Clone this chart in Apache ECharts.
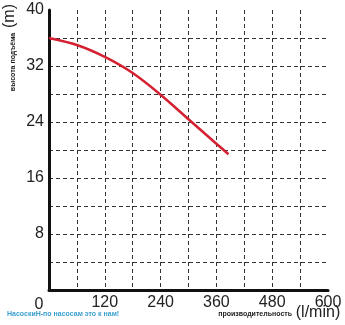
<!DOCTYPE html>
<html><head><meta charset="utf-8">
<script src="https://cdn.jsdelivr.net/npm/echarts@6/dist/echarts.min.js"></script>
<style>html,body{margin:0;padding:0;background:#fff}#c{width:345px;height:325px}</style>
</head><body><div id="c"></div>
<script>
const flow = [0, 60, 120, 180, 240, 300, 360, 386];
const head = [36, 35.0, 33.3, 31.0, 27.9, 24.4, 20.9, 19.4];
const xTickLabels = [0, 120, 240, 360, 480, 600];
const yTickLabels = [8, 16, 24, 32, 40];
const yTitle = 'высота подъёма';
const yUnit = '(m)';
const xTitle = 'производительность';
const xUnit = '(l/min)';
const brand = 'НасоскиН-по насосам это к нам!';

const chart = echarts.init(document.getElementById('c'));
chart.setOption({
  animation: false,
  grid: {left: 49, right: 17, top: 10, bottom: 35},
  xAxis: {
    type: 'value', min: 0, max: 600, interval: 60,
    axisLine: {show: true, lineStyle: {color: '#111', width: 3}},
    axisTick: {show: false},
    splitLine: {show: true, showMinLine: false, showMaxLine: false, lineStyle: {color: '#333', width: 1, type: [4, 3]}},
    axisLabel: {margin: 5, fontSize: 16, color: '#222', fontFamily: 'Liberation Sans',
      formatter: v => v === 0 ? '{z|0}' : (xTickLabels.includes(v) ? String(v) : ''),
      rich: {z: {fontSize: 16, color: '#222', fontFamily: 'Liberation Sans', padding: [2, 20, 0, 0]}}}
  },
  yAxis: {
    type: 'value', min: 0, max: 40, interval: 4,
    axisLine: {show: true, lineStyle: {color: '#111', width: 3}},
    axisTick: {show: false},
    splitLine: {show: true, showMinLine: false, showMaxLine: false, lineStyle: {color: '#333', width: 1, type: [4, 3]}},
    axisLabel: {margin: 5, fontSize: 16, color: '#222', fontFamily: 'Liberation Sans',
      formatter: v => yTickLabels.includes(v) ? String(v) : ''}
  },
  series: [{
    type: 'line', smooth: 0.3, symbol: 'none',
    data: flow.map((f, i) => [f, head[i]]),
    lineStyle: {color: '#d42030', width: 2.5}
  }],
  graphic: [
    {type: 'text', x: 10, y: 16, rotation: Math.PI / 2,
      style: {text: yUnit, font: '16px "Liberation Sans"', fill: '#222', align: 'center', verticalAlign: 'middle'}},
    {type: 'text', x: 13, y: 62, rotation: Math.PI / 2,
      style: {text: yTitle, font: 'bold 7px "Liberation Sans"', fill: '#222', align: 'center', verticalAlign: 'middle'}},
    {type: 'text', x: 292, y: 314,
      style: {text: xTitle, font: 'bold 7px "Liberation Sans"', fill: '#222', align: 'right', verticalAlign: 'middle'}},
    {type: 'text', x: 318, y: 313,
      style: {text: xUnit, font: '16px "Liberation Sans"', fill: '#222', align: 'center', verticalAlign: 'middle'}},
    {type: 'text', x: 7, y: 314,
      style: {text: brand, font: 'bold 7px "Liberation Sans"', fill: '#3a9fd0', align: 'left', verticalAlign: 'middle'}}
  ]
});
</script></body></html>
